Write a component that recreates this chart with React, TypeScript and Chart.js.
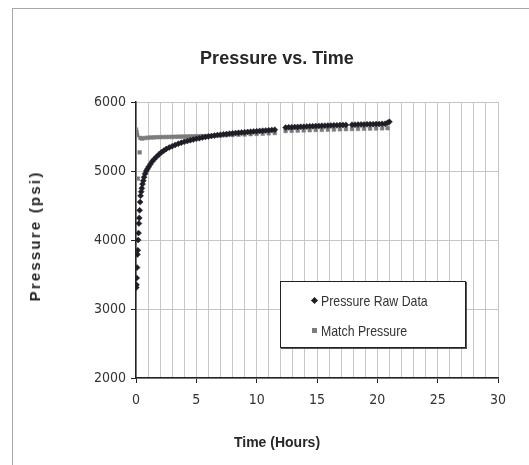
import React, { useEffect, useRef } from 'react';
import { Chart, registerables } from 'chart.js';

Chart.register(...registerables);

const titleText = 'Pressure vs. Time';
const xTitleText = 'Time (Hours)';
const yTitleText = 'Pressure (psi)';
const seriesNames = ['Pressure Raw Data', 'Match Pressure'];

const rawTime = [
  0.02, 0.04, 0.06, 0.09, 0.12, 0.15, 0.18, 0.21, 0.24, 0.27, 0.3, 0.34, 0.38, 0.43,
  0.48, 0.54, 0.6, 0.67, 0.75, 0.85, 0.95, 1.05, 1.2, 1.35, 1.5, 1.7, 1.9, 2.1, 2.3,
  2.5, 2.75, 3.0, 3.25, 3.5, 3.75, 4.0, 4.25, 4.5, 4.75, 5.0, 5.25, 5.5, 5.75, 6.0,
  6.25, 6.5, 6.75, 7.0, 7.25, 7.5, 7.75, 8.0, 8.25, 8.5, 8.75, 9.0, 9.25, 9.5, 9.75,
  10.0, 10.25, 10.5, 10.75, 11.0, 11.25, 11.5,
  12.4, 12.65, 12.9, 13.15, 13.4, 13.65, 13.9, 14.15, 14.4, 14.65, 14.9, 15.15, 15.4,
  15.65, 15.9, 16.15, 16.4, 16.65, 16.9, 17.15, 17.4,
  17.9, 18.15, 18.4, 18.65, 18.9, 19.15, 19.4, 19.65, 19.9, 20.15, 20.4, 20.65, 20.85, 21.0,
];
const rawPressure = [
  3310, 3350, 3450, 3600, 3790, 3850, 4000, 4100, 4240, 4320, 4430, 4550, 4640, 4700,
  4750, 4810, 4860, 4910, 4960, 5000, 5030, 5060, 5100, 5140, 5170, 5205, 5240, 5270, 5295,
  5318, 5340, 5360, 5378, 5395, 5410, 5423, 5435, 5446, 5456, 5466, 5475, 5484, 5492, 5500,
  5507, 5514, 5520, 5526, 5531, 5536, 5541, 5546, 5550, 5554, 5558, 5562, 5566, 5570, 5574,
  5577, 5581, 5584, 5587, 5590, 5593, 5598,
  5630, 5633, 5635, 5637, 5639, 5641, 5643, 5645, 5647, 5649, 5651, 5653, 5655,
  5657, 5658, 5660, 5662, 5663, 5665, 5666, 5668,
  5670, 5671, 5673, 5674, 5675, 5677, 5678, 5679, 5681, 5682, 5683, 5685, 5698, 5712,
];

const matchTime = [
  0.0, 0.05, 0.1, 0.15, 0.3, 0.35,
  0.5, 0.75, 1.0, 1.25, 1.5, 1.75, 2.0, 2.25, 2.5, 2.75, 3.0, 3.25, 3.5, 3.75, 4.0,
  4.25, 4.5, 4.75, 5.0, 5.25, 5.5, 5.75, 6.0, 6.5, 7.0, 7.5, 8.0, 8.5, 9.0, 9.5, 10.0,
  10.5, 11.0, 11.5,
  12.4, 12.9, 13.4, 13.9, 14.4, 14.9, 15.4, 15.9, 16.4, 16.9, 17.4,
  17.9, 18.4, 18.9, 19.4, 19.9, 20.4, 20.85,
];
const matchPressure = [
  5600, 5560, 5520, 4890, 5270, 5480,
  5470, 5478, 5483, 5486, 5488, 5490, 5491, 5492, 5493, 5494, 5495, 5496, 5497, 5498, 5499,
  5500, 5501, 5502, 5503, 5504, 5505, 5506, 5507, 5510, 5514, 5518, 5522, 5526, 5530, 5534, 5538,
  5542, 5546, 5550,
  5580, 5583, 5586, 5589, 5592, 5595, 5597, 5600, 5602, 5605, 5607,
  5609, 5611, 5613, 5615, 5617, 5619, 5621,
];

const xTickValues = [0, 5, 10, 15, 20, 25, 30];
const yTickValues = [2000, 3000, 4000, 5000, 6000];

const NARROW = "'Liberation Sans Narrow', 'Arial Narrow', 'DejaVu Sans Condensed', 'Liberation Sans', sans-serif";
const SANS = "'Liberation Sans', Arial, sans-serif";

const RAW_COLOR = '#1e1e28';
const MATCH_COLOR = '#7c7c7c';

export default function App() {
  const canvasRef = useRef<HTMLCanvasElement | null>(null);

  useEffect(() => {
    const canvas = canvasRef.current;
    if (!canvas) return;
    const chart = new Chart(canvas, {
      type: 'scatter',
      data: {
        datasets: [
          {
            label: seriesNames[0],
            data: rawTime.map((t, i) => ({ x: t, y: rawPressure[i] })),
            pointStyle: 'rectRot',
            pointRadius: 3,
            backgroundColor: RAW_COLOR,
            borderColor: RAW_COLOR,
            borderWidth: 0.5,
            showLine: false,
          },
          {
            label: seriesNames[1],
            data: matchTime.map((t, i) => ({ x: t, y: matchPressure[i] })),
            pointStyle: 'rect',
            pointRadius: 2.6,
            backgroundColor: MATCH_COLOR,
            borderColor: MATCH_COLOR,
            borderWidth: 0.5,
            showLine: false,
          },
        ],
      },
      options: {
        animation: false,
        responsive: false,
        devicePixelRatio: 1,
        events: [],
        layout: { padding: { left: 25, right: 0, top: 48, bottom: 0 } },
        plugins: {
          legend: { display: false },
          tooltip: { enabled: false },
          title: {
            display: true,
            text: titleText,
            color: '#262626',
            font: { family: SANS, size: 18, weight: 'bold', lineHeight: 1.2 },
            padding: { top: 0, bottom: 32.4 },
          },
          subtitle: {
            display: true,
            position: 'bottom',
            text: xTitleText,
            color: '#262626',
            font: { family: SANS, size: 14, weight: 'bold', lineHeight: 1.2 },
            padding: { top: 0, bottom: 13.6 },
          },
        },
        scales: {
          x: {
            type: 'linear',
            min: 0,
            max: 30,
            ticks: {
              stepSize: 1,
              autoSkip: false,
              maxRotation: 0,
              color: '#333',
              font: { family: NARROW, size: 14 },
              padding: 9,
              callback: (v: any) => (xTickValues.includes(Number(v)) ? String(v) : ''),
            },
            grid: {
              color: '#c6c6c6',
              lineWidth: 1,
              tickLength: 5,
              tickColor: (ctx: any) =>
                ctx.tick && xTickValues.includes(ctx.tick.value) ? '#222' : 'rgba(0,0,0,0)',
            },
            border: { color: '#222', width: 1.5 },
            afterFit: (s: any) => {
              s.height = 56.6;
            },
          },
          y: {
            type: 'linear',
            min: 2000,
            max: 6000,
            ticks: {
              stepSize: 1000,
              color: '#333',
              font: { family: NARROW, size: 14 },
              padding: 5,
              callback: (v: any) => (yTickValues.includes(Number(v)) ? String(v) : ''),
            },
            grid: {
              color: '#c6c6c6',
              lineWidth: 1,
              tickLength: 5,
              tickColor: '#222',
            },
            border: { color: '#222', width: 1.5 },
            afterFit: (s: any) => {
              s.width = 111;
            },
          },
          y2: {
            type: 'linear',
            position: 'right',
            display: true,
            grid: { display: false },
            ticks: { display: false },
            border: { display: false },
            afterFit: (s: any) => {
              s.width = 31;
            },
          },
        },
      },
    });
    return () => chart.destroy();
  }, []);

  const legendText: React.CSSProperties = {
    display: 'inline-block',
    transform: 'scaleX(0.82)',
    transformOrigin: 'left center',
    whiteSpace: 'nowrap',
  };

  return (
    <div
      style={{
        position: 'absolute',
        left: 0,
        top: 0,
        width: 529,
        height: 465,
        overflow: 'hidden',
        background: '#fff',
      }}
    >
      <div
        style={{
          position: 'absolute',
          left: 12,
          top: 8,
          width: 600,
          height: 600,
          border: '1px solid #a8a8a8',
          boxSizing: 'border-box',
        }}
      />
      <canvas
        ref={canvasRef}
        width={529}
        height={465}
        style={{ position: 'absolute', left: 0, top: 0, width: 529, height: 465 }}
      />
      <div
        style={{
          position: 'absolute',
          left: 34.5,
          top: 236,
          transform: 'translate(-50%, -50%) rotate(-90deg)',
          whiteSpace: 'nowrap',
          fontFamily: SANS,
          fontWeight: 'bold',
          fontSize: 15,
          letterSpacing: '2.2px',
          color: '#262626',
          lineHeight: '18px',
        }}
      >
        {yTitleText}
      </div>
      <div
        style={{
          position: 'absolute',
          left: 280,
          top: 281,
          width: 186,
          height: 67,
          border: '1px solid #222',
          boxShadow: '1px 1px 0 #555',
          boxSizing: 'border-box',
          background: '#fff',
          fontFamily: SANS,
          fontSize: 15,
          color: '#333',
        }}
      >
        <div style={{ position: 'absolute', left: 31, top: 10, display: 'flex', alignItems: 'center' }}>
          <span
            style={{
              display: 'inline-block',
              width: 5,
              height: 5,
              background: RAW_COLOR,
              transform: 'rotate(45deg)',
              marginRight: 4,
            }}
          />
          <span style={legendText}>{seriesNames[0]}</span>
        </div>
        <div style={{ position: 'absolute', left: 31, top: 40, display: 'flex', alignItems: 'center' }}>
          <span
            style={{
              display: 'inline-block',
              width: 5,
              height: 5,
              background: MATCH_COLOR,
              marginRight: 4,
            }}
          />
          <span style={legendText}>{seriesNames[1]}</span>
        </div>
      </div>
    </div>
  );
}
